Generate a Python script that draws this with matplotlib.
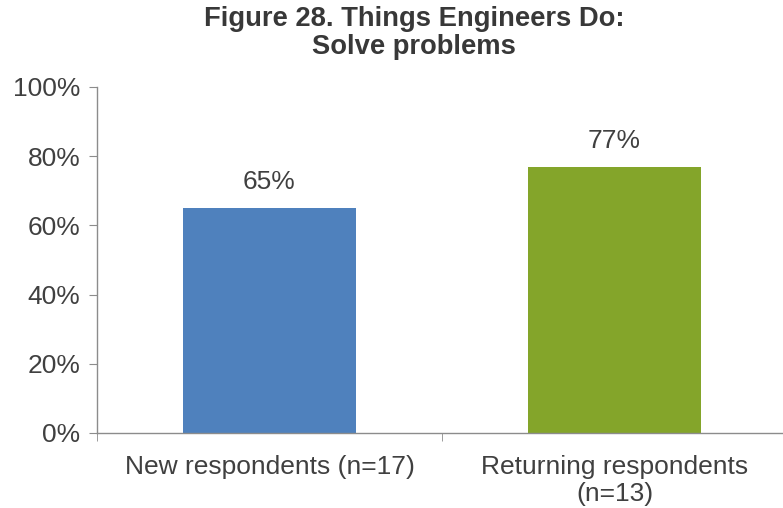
import numpy as np
import matplotlib.pyplot as plt
from matplotlib.ticker import FixedLocator

plt.rcParams['font.family'] = ['Liberation Sans', 'DejaVu Sans']

# survey results
groups = ["New respondents (n=17)", "Returning respondents\n(n=13)"]
pct = [65, 77]
bar_colors = ["#4F81BD", "#84A52A"]
yticks = [0, 20, 40, 60, 80, 100]

txt = "#404040"
axcol = "#8C8C8C"

fig = plt.figure(figsize=(7.83, 5.08), dpi=100)
ax = fig.add_axes([97/783, 1 - 433/508, 690/783, (433 - 87)/508])

x = np.arange(len(groups))
bars = ax.bar(x, pct, width=0.5, color=bar_colors)
for b, v in zip(bars, pct):
    ax.annotate(f"{v}%", (b.get_x() + b.get_width()/2, v), xytext=(0, 10),
                textcoords="offset points", ha="center", va="bottom",
                fontsize=19, color=txt)

ax.set_xlim(-0.5, 1.5)
ax.set_ylim(0, 100)
ax.set_yticks(yticks)
ax.set_yticklabels([f"{t}%" for t in yticks])
ax.set_xticks(x)
ax.set_xticklabels(groups, linespacing=1.15)
ax.xaxis.set_minor_locator(FixedLocator([-0.5, 0.5, 1.5]))

ax.tick_params(axis="y", direction="out", length=6, color=axcol,
               labelsize=19, labelcolor=txt, pad=6)
ax.tick_params(axis="x", which="major", length=0, labelsize=19,
               labelcolor=txt, pad=16)
ax.tick_params(axis="x", which="minor", direction="out", length=6, color=axcol)

for s in ["top", "right"]:
    ax.spines[s].set_visible(False)
for s in ["left", "bottom"]:
    ax.spines[s].set_color(axcol)
    ax.spines[s].set_linewidth(1)

fig.text(414/783, 1 - 33/508, "Figure 28. Things Engineers Do:\nSolve problems",
         ha="center", va="center", fontsize=19.7, fontweight="bold",
         color="#383838", linespacing=1.05)

fig.savefig("out.png", dpi=100)
